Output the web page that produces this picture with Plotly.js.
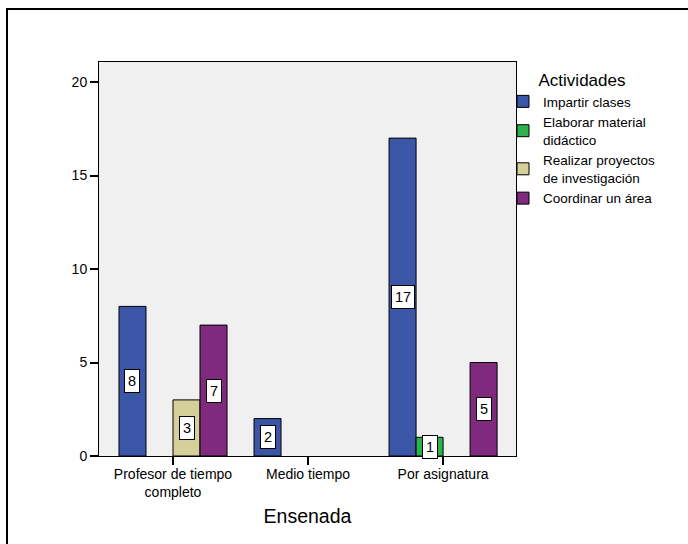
<!DOCTYPE html>
<html>
<head>
<meta charset="utf-8">
<script src="https://cdn.plot.ly/plotly-3.0.1.min.js"></script>
<style>
html,body{margin:0;padding:0;background:#fff;}
#chart{width:688px;height:544px;}
</style>
</head>
<body>
<div id="chart"></div>
<script>
const categories = ["Profesor de tiempo<br>completo", "Medio tiempo", "Por asignatura"];
const seriesNames = ["Impartir clases", "Elaborar material<br>didáctico", "Realizar proyectos<br>de investigación", "Coordinar un área"];
const impartirClases = [8, 2, 17];
const elaborarMaterial = [0, 0, 1];
const realizarProyectos = [3, 0, 0];
const coordinarArea = [7, 0, 5];
const seriesColors = ["#3c56a7", "#2db24b", "#d5d09a", "#7f2a7d"];
const yTicks = [0, 5, 10, 15, 20];

const seriesValues = [impartirClases, elaborarMaterial, realizarProyectos, coordinarArea];
const nSeries = seriesValues.length;
const bargap = 0.2;
const barW = (1 - bargap) / nSeries;

const traces = seriesValues.map((vals, i) => ({
  type: 'bar',
  name: seriesNames[i],
  x: categories,
  y: vals.map(v => v === 0 ? null : v),
  marker: {color: seriesColors[i], line: {color: '#000', width: 1}},
  hoverinfo: 'skip'
}));

const annotations = [];
seriesValues.forEach((vals, i) => {
  vals.forEach((v, j) => {
    if (v > 0) {
      annotations.push({
        xref: 'x', yref: 'y',
        x: j + (i - (nSeries - 1) / 2) * barW,
        y: v / 2,
        text: String(v),
        showarrow: false,
        bgcolor: '#ffffff',
        bordercolor: '#000000',
        borderwidth: 1,
        borderpad: 3,
        font: {family: 'Liberation Sans, Arial, sans-serif', size: 14.5, color: '#000'}
      });
    }
  });
});

const L = 99, R = 516, T = 62, B = 456, W = 688, H = 544;
const pw = R - L, ph = B - T;

const layout = {
  width: W, height: H,
  margin: {l: L, r: W - R, t: T, b: H - B, pad: 0},
  paper_bgcolor: '#ffffff',
  plot_bgcolor: '#f0f0f0',
  font: {family: 'Liberation Sans, Arial, sans-serif', size: 14, color: '#000'},
  barmode: 'group',
  bargap: bargap,
  bargroupgap: 0,
  showlegend: true,
  legend: {
    x: (503 - L) / pw, xanchor: 'left',
    y: (B - 64) / ph, yanchor: 'top',
    bgcolor: 'rgba(0,0,0,0)',
    font: {size: 13.5, color: '#000'},
    title: {text: 'Actividades', side: 'top center', font: {size: 17, color: '#000'}},
    traceorder: 'normal',
    itemclick: false
  },
  xaxis: {
    type: 'category',
    range: [-0.548, 2.54],
    showline: true, linecolor: '#000', linewidth: 1, mirror: true,
    ticks: 'outside', ticklen: 8, tickcolor: '#000', tickwidth: 2,
    ticklabelstandoff: -3,
    showgrid: false, zeroline: false,
    tickfont: {size: 14, color: '#000'},
    title: {text: 'Ensenada', font: {size: 19.5, color: '#000'}, standoff: 10},
    automargin: false
  },
  yaxis: {
    range: [0, 21.07],
    tickvals: yTicks,
    ticktext: yTicks.map(String),
    showline: true, linecolor: '#000', linewidth: 1, mirror: true,
    ticks: 'outside', ticklen: 8, tickcolor: '#000', tickwidth: 2,
    showgrid: false, zeroline: false,
    tickfont: {size: 14, color: '#000'},
    automargin: false
  },
  annotations: annotations,
  shapes: [{
    type: 'rect', xref: 'paper', yref: 'paper',
    x0: (7 - L) / pw, x1: (W + 20 - L) / pw,
    y0: (B - (H + 20)) / ph, y1: (B - 9) / ph,
    line: {color: '#000', width: 2},
    fillcolor: 'rgba(0,0,0,0)',
    layer: 'below'
  }]
};

Plotly.newPlot('chart', traces, layout, {displayModeBar: false, staticPlot: true});
</script>
</body>
</html>
